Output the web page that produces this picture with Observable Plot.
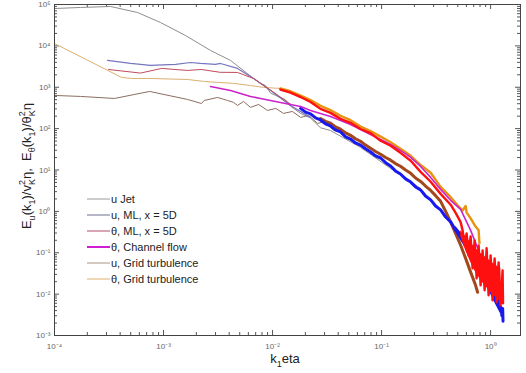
<!DOCTYPE html>
<html>
<head>
<meta charset="utf-8">
<script src="https://cdn.jsdelivr.net/npm/d3@7"></script>
<script src="https://cdn.jsdelivr.net/npm/@observablehq/plot@0.6"></script>
<style>
  html, body { margin: 0; padding: 0; background: #fff; }
  #chart { width: 526px; height: 373px; }
</style>
</head>
<body>
<div id="chart"></div>
<script>
// ---- Data (k1*eta, normalized spectrum) ----
const uJet = [[1e-4,8.0e4],[1.73e-4,8.47e4],[3.27e-4,8.95e4],[5.77e-4,6.41e4],[9.38e-4,3.67e4],[1.59e-3,1.78e4],[2.70e-3,7.75e3],[4.12e-3,4.44e3],[6.70e-3,1.63e3],[7.76e-3,1.24e3],[8.6e-3,1.1e3],[9.59e-3,720],[1.07e-2,634],[1.31e-2,500],[1.46e-2,350],[1.81e-2,233],[2.23e-2,180],[2.75e-2,105],[3.40e-2,90],[6.41e-2,35.2],[0.121,10.9],[0.228,3.6]];

const uMLlow = [[3.06e-4,4.44e3],[4.98e-4,3.76e3],[7.6e-4,3.37e3],[1.29e-3,3.56e3],[1.77e-3,3.97e3],[2.18e-3,3.76e3],[3.0e-3,3.56e3],[3.33e-3,3.76e3],[4.77e-3,2.85e3],[6.70e-3,1.63e3],[9.59e-3,837],[1.46e-2,363],[2.23e-2,187]];
const uMLhigh = [[1.81e-2,308],[2.01e-2,250],[2.23e-2,228],[2.48e-2,182],[2.75e-2,162],[3.06e-2,131],[3.40e-2,116],[3.78e-2,93],[4.20e-2,83],[4.68e-2,63],[5.19e-2,56],[5.77e-2,45],[6.41e-2,40],[7.13e-2,32.5],[7.92e-2,27.2],[8.81e-2,22],[9.79e-2,19.5],[0.109,15],[0.121,12.5],[0.134,9.5],[0.149,8.0],[0.166,6.1],[0.185,5.1],[0.205,3.9],[0.228,3.3],[0.253,2.35],[0.282,1.9],[0.313,1.35],[0.348,1.09],[0.387,0.73],[0.430,0.56],[0.478,0.35],[0.531,0.26],[0.590,0.16],[0.656,0.112],[0.728,0.066],[0.810,0.044],[0.900,0.023],[1.0,0.0145],[1.11,0.0075],[1.24,0.0048],[1.27,0.0030],[1.29,0.0045],[1.30,0.0022]];
// noisy end of the u, ML band: k, upper, lower
const uMLnoise = [[0.478,0.435,0.311],[0.531,0.311,0.199],[0.590,0.211,0.128],[0.656,0.143,0.0818],[0.728,0.0915,0.0496],[0.810,0.0586,0.0301],[0.900,0.0337,0.0173],[1.0,0.0204,0.00989],[1.11,0.0124,0.00567],[1.24,0.00748,0.00325]];

const tMLlow = [[3.13e-4,2.69e3],[6.15e-4,2.2e3],[9.6e-4,2.85e3],[1.66e-3,2.55e3],[2.22e-3,2.69e3],[3.3e-3,2.3e3],[4.77e-3,2.28e3],[6.70e-3,1.63e3],[9.59e-3,850],[1.46e-2,390]];
const tMLhigh = [[1.18e-2,880],[1.46e-2,740],[1.81e-2,580],[2.23e-2,440],[2.75e-2,300],[3.40e-2,240],[4.20e-2,172],[5.19e-2,138],[6.41e-2,98],[7.92e-2,78],[9.79e-2,51],[0.121,38.5],[0.149,26],[0.185,16.8],[0.228,9.0],[0.282,5.2],[0.348,2.65],[0.430,1.45],[0.478,0.92],[0.531,0.55],[0.5535,0.347],[0.5774,0.151],[0.6022,0.294],[0.6283,0.0866],[0.6554,0.249],[0.6837,0.042],[0.7133,0.199],[0.744,0.0241],[0.7761,0.151],[0.8096,0.0163],[0.8446,0.114],[0.881,0.0124],[0.919,0.128],[0.9587,0.00935],[1.0,0.0866],[1.043,0.00708],[1.088,0.0733],[1.135,0.00634],[1.184,0.0586],[1.235,0.00536],[1.288,0.0376],[1.30,0.006]];
// filled body of the noisy theta, ML end: k, upper, lower
const tMLnoise = [[0.531,0.347,0.249],[0.590,0.249,0.114],[0.656,0.178,0.0586],[0.728,0.128,0.0337],[0.810,0.0968,0.0215],[0.900,0.0775,0.0154],[1.0,0.0619,0.0111],[1.11,0.0496,0.00837],[1.24,0.042,0.00634]];

const tChannel = [[2.70e-3,1.04e3],[3.33e-3,935],[4.12e-3,837],[5.08e-3,708],[6.28e-3,600],[7.76e-3,536],[9.59e-3,480],[1.18e-2,430],[1.46e-2,384],[1.81e-2,344],[2.23e-2,275],[2.75e-2,233],[3.40e-2,197],[4.20e-2,158],[5.19e-2,126],[6.41e-2,95.7],[7.92e-2,72.4],[9.79e-2,54.8],[0.121,41.5],[0.149,29.7],[0.185,20.2],[0.228,12.2],[0.282,6.62],[0.348,3.40],[0.430,1.85],[0.531,1.12],[0.656,0.347],[0.776,0.114],[0.845,0.042]];

const uGridLow = [[1e-4,634],[1.73e-4,600],[3.55e-4,536],[7.45e-4,792],[1.66e-3,507],[2.22e-3,406],[2.37e-3,480],[3.13e-3,567],[3.86e-3,480],[4.39e-3,430],[4.77e-3,363],[5.42e-3,454],[6.28e-3,325],[7.45e-3,384],[9.0e-3,275],[1.07e-2,308],[1.26e-2,233],[1.52e-2,260],[1.81e-2,187],[2.14e-2,208],[2.59e-2,134],[3.06e-2,149],[3.63e-2,90.5],[4.68e-2,76.6],[6.41e-2,46.4]];
const uGridHigh = [[2.75e-2,176],[3.06e-2,150],[3.40e-2,136],[3.78e-2,110],[4.20e-2,97],[4.68e-2,79],[5.19e-2,69],[5.77e-2,57],[6.41e-2,49.5],[7.13e-2,40],[7.92e-2,33.5],[8.81e-2,28],[9.79e-2,24],[0.109,20],[0.121,17.3],[0.134,14.3],[0.149,12.3],[0.166,10],[0.185,8.3],[0.205,6.4],[0.228,5.3],[0.253,4.1],[0.282,3.2],[0.313,2.4],[0.348,1.75],[0.387,1.0],[0.430,0.55],[0.478,0.29],[0.531,0.152],[0.590,0.073],[0.656,0.034],[0.728,0.0163],[0.760,0.0111]];

const tGridLow = [[1e-4,1.14e4],[4.12e-4,1.73e3],[5.08e-4,1.63e3],[7.6e-4,1.63e3],[1.66e-3,1.54e3],[2.37e-3,1.38e3],[4.39e-3,1.24e3],[6.28e-3,1.10e3],[8.26e-3,989],[1.18e-2,935]];
const tGridHigh = [[1.18e-2,935],[1.46e-2,800],[1.81e-2,625],[2.23e-2,490],[2.75e-2,355],[3.40e-2,280],[4.20e-2,205],[5.19e-2,160],[6.41e-2,112],[7.92e-2,87],[9.79e-2,64],[0.121,47],[0.149,32.5],[0.185,22],[0.228,13.2],[0.282,8.6],[0.348,3.9],[0.430,2.2],[0.498,1.40],[0.5535,1.05],[0.590,1.35],[0.6022,0.95],[0.656,0.68],[0.728,0.43],[0.776,0.35],[0.79,0.17]];

// tick labels
const xTicks = [1e-4, 1e-3, 1e-2, 1e-1, 1];
const xTickLabels = ["10\u207B\u2074", "10\u207B\u00B3", "10\u207B\u00B2", "10\u207B\u00B9", "10\u2070"];
const yTicks = [1e-3, 1e-2, 1e-1, 1, 1e1, 1e2, 1e3, 1e4, 1e5];
const yTickLabels = ["10\u207B\u00B3", "10\u207B\u00B2", "10\u207B\u00B9", "10\u2070", "10\u00B9", "10\u00B2", "10\u00B3", "10\u2074", "10\u2075"];

const legendNames = ["u Jet", "u, ML, x = 5D", "\u03B8, ML, x = 5D", "\u03B8, Channel flow", "u, Grid turbulence", "\u03B8, Grid turbulence"];
const legendColors = ["#9a9a9a", "#6e6e94", "#b44a6a", "#d21ed2", "#a89484", "#dcb070"];
const legendWidths = [1, 1, 1, 2, 1, 1];

// ---- layout ----
const W = 526, H = 373, mL = 54, mR = 6, mT = 4, mB = 38;
const fw = W - mL - mR, fh = H - mT - mB;

const minor = (lo, hi) => {
  const out = [];
  for (let e = Math.floor(Math.log10(lo)); e <= Math.ceil(Math.log10(hi)); e++)
    for (let m = 2; m <= 9; m++) { const v = m * Math.pow(10, e); if (v > lo && v < hi) out.push(v); }
  return out;
};
const xDom = [1e-4, 1.88], yDom = [1e-3, 1e5];
const xMinor = minor(...xDom), yMinor = minor(...yDom);
const tc = "#555";

const line = (data, stroke, w) => Plot.line(data, {x: d => d[0], y: d => d[1], stroke, strokeWidth: w, strokeLinejoin: "round"});
const band = (data, fill) => Plot.areaY(data, {x: d => d[0], y1: d => d[2], y2: d => d[1], fill});

const chart = Plot.plot({
  width: W, height: H,
  marginLeft: mL, marginRight: mR, marginTop: mT, marginBottom: mB,
  x: {type: "log", domain: xDom},
  y: {type: "log", domain: yDom},
  style: {fontFamily: "'Liberation Sans', Arial, sans-serif", fontSize: "8px", color: "#666", background: "#fff"},
  marks: [
    // ticks, all four sides, inward
    Plot.tickX(xTicks, {x: d => d, insetTop: fh - 5, stroke: tc}),
    Plot.tickX(xTicks, {x: d => d, insetBottom: fh - 5, stroke: tc}),
    Plot.tickX(xMinor, {x: d => d, insetTop: fh - 3, stroke: tc}),
    Plot.tickX(xMinor, {x: d => d, insetBottom: fh - 3, stroke: tc}),
    Plot.tickY(yTicks, {y: d => d, insetRight: fw - 5, stroke: tc}),
    Plot.tickY(yTicks, {y: d => d, insetLeft: fw - 5, stroke: tc}),
    Plot.tickY(yMinor, {y: d => d, insetRight: fw - 3, stroke: tc}),
    Plot.tickY(yMinor, {y: d => d, insetLeft: fw - 3, stroke: tc}),
    Plot.axisX(xTicks, {anchor: "bottom", tickSize: 0, tickPadding: 8, tickFormat: (d) => xTickLabels[xTicks.indexOf(d)], label: null, fill: "#666"}),
    Plot.axisY(yTicks, {anchor: "left", tickSize: 0, tickPadding: 4, tickFormat: (d) => yTickLabels[yTicks.indexOf(d)], label: null, fill: "#666"}),
    // series
    line(uJet, "#8e8e8e", 1),
    line(tGridLow, "#dcb070", 1),
    line(uGridLow, "#8c6e62", 1),
    line(uMLlow, "#7676c0", 1.2),
    line(tMLlow, "#c04a5c", 1),
    line(tGridHigh, "#e8920e", 2.4),
    line(uGridHigh, "#a3471c", 3),
    band(uMLnoise, "#1818f0"),
    line(uMLhigh, "#1818f0", 3),
    line(tChannel, "#cc22cc", 1.6),
    band(tMLnoise, "#ff1010"),
    line(tMLhigh, "#ff1010", 2.4),
    Plot.frame({stroke: "#444"})
  ]
});
document.getElementById("chart").appendChild(chart);

// ---- legend, axis titles (SVG text) ----
const svg = d3.select(chart);
const font = "'Liberation Sans', Arial, sans-serif";
const lg = svg.append("g").attr("font-family", font).attr("font-size", 11).attr("fill", "#222").attr("text-anchor", "start");
legendNames.forEach((name, i) => {
  const y = 199 + i * 16;
  lg.append("line").attr("x1", 87).attr("x2", 110).attr("y1", y).attr("y2", y)
    .attr("stroke", legendColors[i]).attr("stroke-width", legendWidths[i]);
  lg.append("text").attr("x", 111).attr("y", y + 4).attr("text-anchor", "start").text(name);
});

// x label: k_1 eta
const xl = svg.append("text").attr("font-family", font).attr("font-size", 13).attr("fill", "#222")
  .attr("x", 285).attr("y", 363).attr("text-anchor", "middle");
xl.append("tspan").text("k");
xl.append("tspan").attr("font-size", 9).attr("dy", 4).text("1");
xl.append("tspan").attr("dy", -4).text("eta");

// y label
const yl = svg.append("text").attr("font-family", font).attr("font-size", 13).attr("fill", "#222")
  .attr("text-anchor", "middle").attr("transform", "translate(31,166) rotate(-90)");
const seg = (t, size, dy, dx) => { const s = yl.append("tspan").text(t); if (size) s.attr("font-size", size); if (dy) s.attr("dy", dy); if (dx) s.attr("dx", dx); };
seg("E"); seg("u", 9, 4); seg("(k", null, -4); seg("1", 9, 4); seg(")/v", null, -4); seg("K", 9, 4); seg("2", 9, -10, -6); seg("\u03B7,  E", null, 6, 1);
seg("\u03B8", 9, 4); seg("(k", null, -4); seg("1", 9, 4); seg(")/\u03B8", null, -4); seg("K", 9, 4); seg("2", 9, -10, -6); seg("\u03B7", null, 6, 1);
</script>
</body>
</html>
